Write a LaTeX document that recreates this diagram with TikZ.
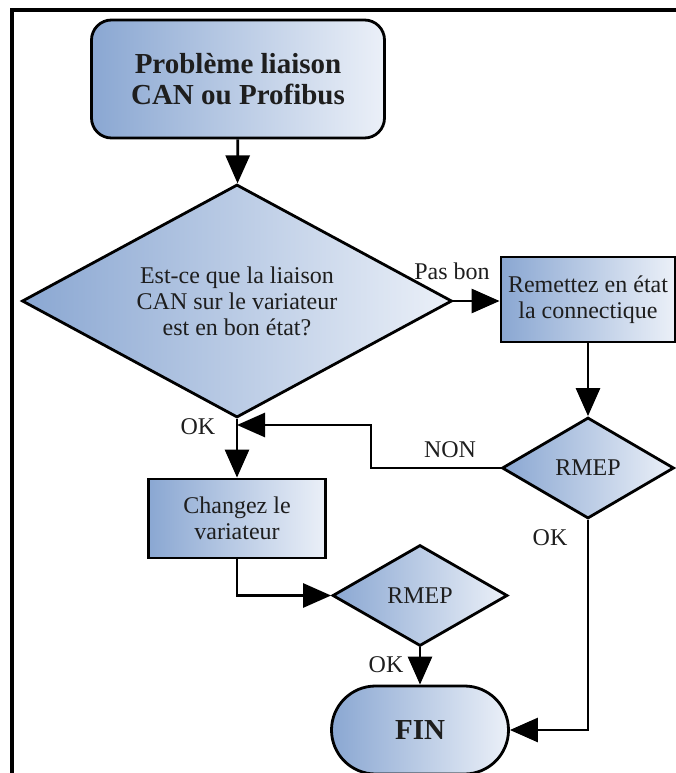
\documentclass[tikz,border=0pt]{standalone}
\usepackage{fontspec}
\setmainfont{Liberation Serif}
\usepackage{tikz}
\usetikzlibrary{arrows.meta, shapes.geometric}
\definecolor{flowdark}{HTML}{8AA7D2}
\definecolor{flowlight}{HTML}{EBF0F8}
\definecolor{flowtext}{HTML}{1E1E1E}

\begin{document}
\begin{tikzpicture}[x=1pt, y=-1pt,
    box/.style={draw, line width=2.8pt, left color=flowdark, right color=flowlight,
                text=flowtext, align=center, inner sep=2pt,
                font=\fontsize{24}{26}\selectfont},
    decision/.style={box, diamond, aspect=1.8},
    term/.style={box, rounded corners=#1},
    flow/.style={line width=2.8pt, -{Triangle[length=28pt, width=24pt]}},
    lbl/.style={text=flowtext, font=\fontsize{24}{26}\selectfont},
]
    \useasboundingbox (0,0) rectangle (676,773);
    % outer frame
    \draw[line width=3.2pt] (12,790) -- (12,10) -- (690,10);

    % nodes
    \node[term=20pt, minimum width=293pt, minimum height=118pt,
          font=\fontsize{29}{31}\selectfont\bfseries] (start) at (238,79)
        {Problème liaison\\CAN ou Profibus};
    \node[decision, minimum width=430pt, minimum height=233pt] (check) at (237,301)
        {Est-ce que la liaison\\CAN sur le variateur\\est en bon état?};
    \node[box, minimum width=174pt, minimum height=85pt] (repair) at (588,299.5)
        {Remettez en état\\la connectique};
    \node[decision, minimum width=172pt, minimum height=101pt] (rmepA) at (588,468) {RMEP};
    \node[box, minimum width=177pt, minimum height=79pt] (change) at (237,518.5)
        {Changez le\\variateur};
    \node[decision, minimum width=175pt, minimum height=101pt] (rmepB) at (420,595.5) {RMEP};
    \node[term=44pt, minimum width=177pt, minimum height=88pt,
          font=\fontsize{29}{31}\selectfont\bfseries] (fin) at (420,730) {FIN};

    % connectors
    \coordinate (back) at (371,425);
    \draw[flow] (start) -- (check);
    \draw[flow] (check.east) -- (check.east -| repair.west);
    \draw[flow] (repair.south -| rmepA.north) -- (rmepA.north);
    \draw[flow] (check.south) -- (change.north);
    \draw[flow] (rmepA.west) -| (back) -- (back -| check.south);
    \draw[flow] (change.south) |- (rmepB.west);
    \draw[flow] (rmepB.south) -- (fin.north);
    \draw[flow] (rmepA.south) |- (fin.east);

    % labels
    \node[lbl] (pasbon) at (452,271) {Pas bon};
    \node[lbl] (okA) at (198,427) {OK};
    \node[lbl] (non) at (450,450) {NON};
    \node[lbl] (okB) at (550,538) {OK};
    \node[lbl] (okC) at (386,665) {OK};
\end{tikzpicture}
\end{document}
